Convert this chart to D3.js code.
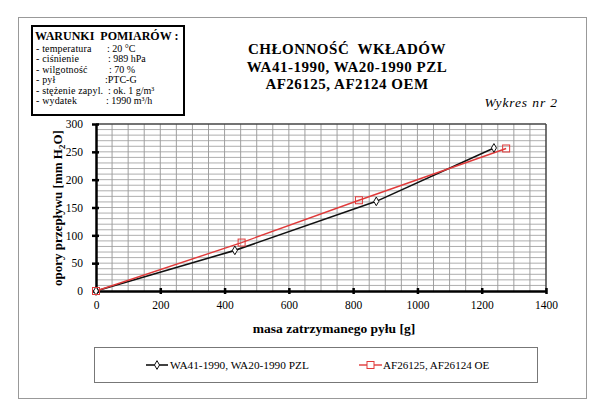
<!DOCTYPE html>
<html><head><meta charset="utf-8">
<script src="https://d3js.org/d3.v7.min.js"></script>
<style>body{margin:0;background:#fff}svg{display:block;font-family:"Liberation Serif","Times New Roman",serif}text{white-space:pre}</style>
</head><body><svg id="c" width="604" height="412"></svg>
<script>
const titleLines = ["CHŁONNOŚĆ\u00a0 WKŁADÓW", "WA41-1990, WA20-1990 PZL", "AF26125, AF2124 OEM"];
const subtitle = "Wykres nr 2";
const condTitle = "WARUNKI\u00a0 POMIARÓW :";
const condLabels = ["- temperatura", "- ciśnienie", "- wilgotność", "- pył", "- stężenie zapyl.", "- wydatek"];
const condValues = [": 20 °C", ": 989 hPa", ": 70 %", ":PTC-G", ": ok. 1 g/m³", ": 1990 m³/h"];
const xTicks = [0, 200, 400, 600, 800, 1000, 1200, 1400];
const yTicks = [0, 50, 100, 150, 200, 250, 300];
const seriesNames = ["WA41-1990, WA20-1990 PZL", "AF26125, AF26124 OE"];
const blackX = [0, 432, 872, 1238];
const blackY = [0, 73, 161, 257];
const redX = [0, 453, 818, 1276];
const redY = [0, 87, 163, 256];
const xTitle = "masa zatrzymanego pyłu [g]";

const FONT = "Liberation Serif, Times New Roman, serif";
const svg = d3.select("#c");
// outer frame
svg.append("rect").attr("x",18.5).attr("y",17.5).attr("width",568).attr("height",381)
  .attr("fill","none").attr("stroke","#999").attr("stroke-width",1);

// conditions box
svg.append("rect").attr("x",32).attr("y",26).attr("width",152).attr("height",89)
  .attr("fill","#fff").attr("stroke","#000").attr("stroke-width",2);
svg.append("text").attr("x",35).attr("y",40).attr("font-size",12).attr("font-weight","bold").text(condTitle);
condLabels.forEach((l,i)=>{
  const y = 51.5 + i*10.5;
  svg.append("text").attr("x",36).attr("y",y).attr("font-size",10).attr("letter-spacing",0.15).text(l);
  svg.append("text").attr("x",[107,108,109,105,108,106][i]).attr("y",y).attr("font-size",10).text(condValues[i]);
});

// titles
titleLines.forEach((t,i)=>{
  svg.append("text").attr("x",347).attr("y",[54,71.5,89][i]).attr("text-anchor","middle")
    .attr("font-size",15).attr("letter-spacing",0.5).attr("font-weight","bold").text(t);
});
svg.append("text").attr("x",558).attr("y",107).attr("text-anchor","end").attr("font-size",13.5)
  .attr("font-style","italic").attr("letter-spacing",0.9).text(subtitle);

// scales
const x = d3.scaleLinear().domain([0,1400]).range([96,546]);
const y = d3.scaleLinear().domain([0,300]).range([291,124]);

// grid
const g = svg.append("g");
g.selectAll("line.v").data(d3.range(50,1400,50)).join("line")
  .attr("x1",d=>x(d)).attr("x2",d=>x(d)).attr("y1",y(0)).attr("y2",y(300))
  .attr("stroke","#888").attr("stroke-width",0.8);
g.selectAll("line.h").data(d3.range(10,300,10)).join("line")
  .attr("y1",d=>y(d)).attr("y2",d=>y(d)).attr("x1",x(0)).attr("x2",x(1400))
  .attr("stroke","#999").attr("stroke-width",0.8);
// top/right border
svg.append("line").attr("x1",x(0)).attr("x2",x(1400)).attr("y1",y(300)).attr("y2",y(300)).attr("stroke","#444").attr("stroke-width",1.5);
svg.append("line").attr("x1",x(1400)).attr("x2",x(1400)).attr("y1",y(0)).attr("y2",y(300)).attr("stroke","#444").attr("stroke-width",1.5);

// axes
const xAxis = svg.append("g").attr("transform",`translate(0,${y(0)})`)
  .call(d3.axisBottom(x).tickValues(xTicks).tickFormat(d3.format("d")).tickSize(0).tickPadding(10));
const yAxis = svg.append("g").attr("transform",`translate(${x(0)},0)`)
  .call(d3.axisLeft(y).tickValues(yTicks).tickFormat(d3.format("d")).tickSize(0).tickPadding(13));
[xAxis,yAxis].forEach(a=>{
  a.select(".domain").attr("stroke","#000").attr("stroke-width",2.5);
  a.selectAll("text").attr("font-family",FONT).attr("font-size",11.5).attr("fill","#000");
});
xAxis.selectAll(".tick").append("line").attr("y1",-3).attr("y2",3).attr("stroke","#000").attr("stroke-width",2.5);
yAxis.selectAll(".tick").append("line").attr("x1",-4).attr("x2",3).attr("stroke","#000").attr("stroke-width",2.5);

// axis titles
svg.append("text").attr("x",334).attr("y",333).attr("text-anchor","middle").attr("font-size",13.5)
  .attr("font-weight","bold").text(xTitle);
const yt = svg.append("text").attr("transform","translate(62,208) rotate(-90)").attr("text-anchor","middle")
  .attr("font-size",13).attr("font-weight","bold");
yt.append("tspan").text("opory przepływu [mm H");
yt.append("tspan").attr("font-size",9).attr("dy",3).text("2");
yt.append("tspan").attr("dy",-3).text("O]");

// series
const line = d3.line().x(d=>x(d[0])).y(d=>y(d[1]));
const black = blackX.map((v,i)=>[v,blackY[i]]);
const red = redX.map((v,i)=>[v,redY[i]]);
svg.append("path").datum(black).attr("d",line).attr("fill","none").attr("stroke","#111").attr("stroke-width",1.6);
svg.append("path").datum(red).attr("d",line).attr("fill","none").attr("stroke","#e03a3a").attr("stroke-width",1.4);
const diamond = d3.symbol().type(d3.symbolDiamond).size(22);
svg.selectAll("path.bm").data(black).join("path").attr("d",diamond)
  .attr("transform",d=>`translate(${x(d[0])},${y(d[1])})`).attr("fill","#fff").attr("stroke","#111").attr("stroke-width",1);
svg.selectAll("rect.rm").data(red).join("rect")
  .attr("x",d=>x(d[0])-3.5).attr("y",d=>y(d[1])-3.5).attr("width",7).attr("height",7)
  .attr("fill","none").attr("stroke","#e03a3a").attr("stroke-width",1);

// legend
svg.append("rect").attr("x",94.5).attr("y",347.5).attr("width",443).attr("height",35)
  .attr("fill","#fff").attr("stroke","#777").attr("stroke-width",1);
const ly = 365;
svg.append("line").attr("x1",146).attr("x2",168).attr("y1",ly).attr("y2",ly).attr("stroke","#111").attr("stroke-width",1.6);
svg.append("path").attr("d",diamond).attr("transform",`translate(157,${ly})`).attr("fill","#fff").attr("stroke","#111");
svg.append("text").attr("x",170).attr("y",ly+4).attr("font-size",11.3).text(seriesNames[0]);
svg.append("line").attr("x1",359).attr("x2",382).attr("y1",ly).attr("y2",ly).attr("stroke","#e03a3a").attr("stroke-width",1.4);
svg.append("rect").attr("x",367).attr("y",ly-3.5).attr("width",7).attr("height",7).attr("fill","#fff").attr("stroke","#e03a3a");
svg.append("text").attr("x",383).attr("y",ly+4).attr("font-size",11.1).text(seriesNames[1]);
</script></body></html>
